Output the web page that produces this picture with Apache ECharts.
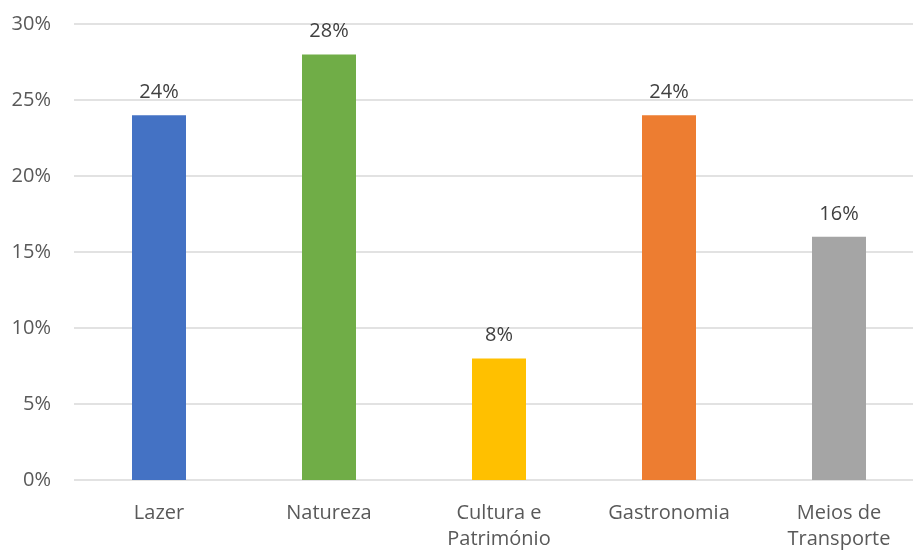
<!DOCTYPE html>
<html>
<head>
<meta charset="utf-8">
<script src="https://cdn.jsdelivr.net/npm/echarts@6/dist/echarts.min.js"></script>
<style>
  html, body { margin: 0; padding: 0; background: #fff; }
  #chart { width: 913px; height: 552px; }
</style>
</head>
<body>
<div id="chart"></div>
<script>
    var categories = ['Lazer', 'Natureza', 'Cultura e\nPatrimónio', 'Gastronomia', 'Meios de\nTransporte'];
    var values = [24, 28, 8, 24, 16];
    var barColors = ['#4472c4', '#70ad47', '#ffc000', '#ed7d31', '#a5a5a5'];

    var myChart = echarts.init(document.getElementById('chart'));
    var fontFam = '"Open Sans", "Noto Sans", sans-serif';
    var option = {
        animation: false,
        grid: { left: 74, top: 24, width: 850, height: 456, outerBoundsMode: 'none' },
        xAxis: {
            type: 'category',
            data: categories,
            axisLine: { show: false },
            axisTick: { show: false },
            axisLabel: {
                color: '#595959', fontSize: 20, fontFamily: fontFam,
                margin: 20, lineHeight: 26, interval: 0
            }
        },
        yAxis: {
            type: 'value',
            min: 0, max: 30, interval: 5,
            axisLabel: {
                color: '#595959', fontSize: 20, fontFamily: fontFam,
                margin: 23, formatter: '{value}%'
            },
            splitLine: { lineStyle: { color: '#d9d9d9', width: 1.5 } }
        },
        series: [{
            type: 'bar',
            barWidth: 54,
            data: values.map(function (v, i) {
                return { value: v, itemStyle: { color: barColors[i] } };
            }),
            label: {
                show: true, position: 'top', distance: 13,
                color: '#404040', fontSize: 20, fontFamily: fontFam,
                formatter: '{c}%'
            }
        }]
    };
    myChart.setOption(option);
</script>
</body>
</html>
